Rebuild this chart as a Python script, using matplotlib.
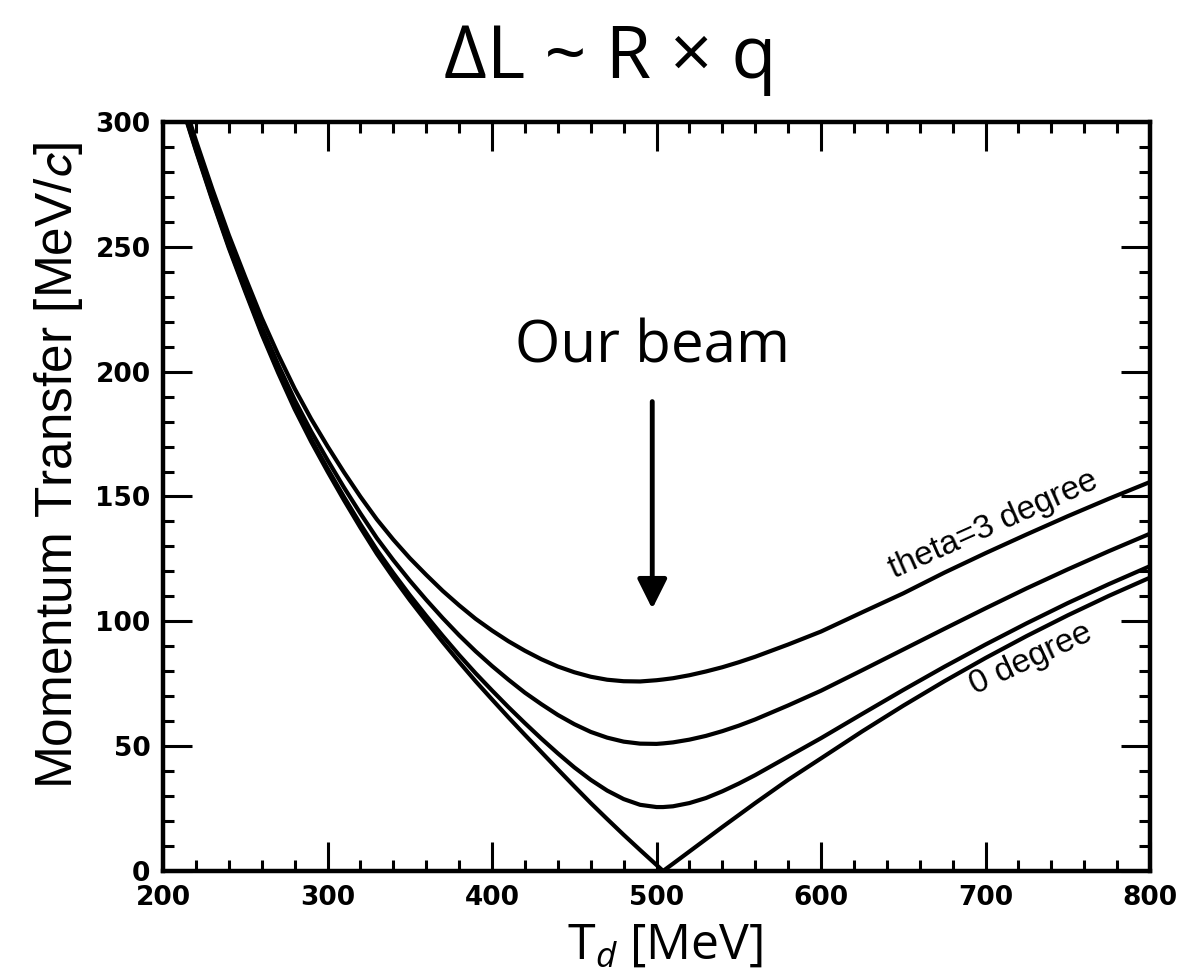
import matplotlib
matplotlib.use("Agg")
import matplotlib.pyplot as plt
from matplotlib.ticker import MultipleLocator

# -------------------------------------------------------
# 1. Data (T_d in MeV, q in MeV/c)
# -------------------------------------------------------

t_d = [210, 215, 220, 230, 240, 250, 260, 270, 280, 290,
       300, 310, 320, 330, 340, 350, 360, 370, 380, 390,
       400, 410, 420, 430, 440, 450, 460, 470, 480, 490,
       500, 504, 510, 520, 530, 540, 550, 560, 580, 600,
       625, 650, 675, 700, 725, 750, 775, 800]

q_0deg = [309, 299, 288.5, 268.5, 249.5, 232, 215, 199.5, 185, 172,
          160, 148.5, 137.5, 127, 117.5, 108.5, 100, 91.7, 83.7, 76,
          68.7, 61.5, 54.5, 47.6, 40.7, 33.9, 27.2, 20.8, 14.5, 8.4,
          2.4, 0, 2.9, 7.8, 12.7, 17.6, 22.4, 27.2, 36.5, 45.1,
          55.9, 66.2, 76.0, 85.3, 94.1, 102.4, 110.2, 117.5]

q_1deg = [309.4, 299.4, 289.0, 269.0, 250.1, 232.7, 215.7, 200.3, 185.9, 173.0,
          161.2, 149.8, 138.9, 128.6, 119.3, 110.5, 102.2, 94.2, 86.5, 79.2,
          72.3, 65.6, 59.2, 53.0, 47.1, 41.5, 36.5, 32.2, 28.8, 26.5,
          25.6, 25.6, 25.9, 27.2, 29.2, 31.9, 35.0, 38.4, 45.8, 53.2,
          62.9, 72.5, 81.8, 90.7, 99.2, 107.3, 114.9, 122.1]

q_2deg = [310.6, 300.7, 290.3, 270.6, 251.8, 234.6, 217.9, 202.8, 188.7, 176.1,
          164.6, 153.6, 143.2, 133.3, 124.5, 116.3, 108.6, 101.3, 94.4, 88.0,
          82.1, 76.6, 71.4, 66.8, 62.5, 58.8, 55.7, 53.4, 51.8, 51.0,
          50.9, 51.1, 51.5, 52.6, 54.1, 56.0, 58.2, 60.7, 66.3, 72.2,
          80.4, 88.7, 97.0, 105.2, 113.2, 120.8, 128.1, 135.1]

q_3deg = [312.7, 302.9, 292.6, 273.1, 254.7, 237.8, 221.5, 206.8, 193.2, 181.1,
          170.1, 159.7, 149.9, 140.8, 132.7, 125.3, 118.6, 112.2, 106.4, 101.0,
          96.3, 92.0, 88.2, 84.8, 81.9, 79.6, 77.8, 76.6, 76.0, 75.9,
          76.4, 76.7, 77.2, 78.4, 79.9, 81.6, 83.6, 85.8, 90.7, 95.9,
          103.6, 111.2, 119.5, 127.3, 134.8, 142.1, 149.1, 155.8]

curves = [q_0deg, q_1deg, q_2deg, q_3deg]

beam_energy = 497.4
beam_arrow_top = 188
beam_arrow_tip = 105

# -------------------------------------------------------
# 2. Figure
# -------------------------------------------------------

plt.rcParams["mathtext.fontset"] = "custom"
plt.rcParams["mathtext.rm"] = "Open Sans"
plt.rcParams["mathtext.it"] = "Open Sans:italic"

fig = plt.figure(figsize=(11.84, 9.75), dpi=100)
ax = fig.add_axes([0.1377, 0.1067, 0.8336, 0.7682])

for q in curves:
    ax.plot(t_d, q, color="black", lw=3, solid_joinstyle="round",
            solid_capstyle="butt")

ax.set_xlim(200, 800)
ax.set_ylim(0, 300)

ax.xaxis.set_major_locator(MultipleLocator(100))
ax.xaxis.set_minor_locator(MultipleLocator(20))
ax.yaxis.set_major_locator(MultipleLocator(50))
ax.yaxis.set_minor_locator(MultipleLocator(10))

ax.tick_params(which="both", direction="in", top=True, right=True,
               width=2.2, color="black")
ax.tick_params(which="major", length=21)
ax.tick_params(which="minor", length=8)
ax.tick_params(axis="y", pad=9, labelsize=19)
ax.tick_params(axis="x", pad=10, labelsize=19)
for lab in ax.get_xticklabels() + ax.get_yticklabels():
    lab.set_family("DejaVu Sans")
    lab.set_fontweight("bold")

for sp in ax.spines.values():
    sp.set_linewidth(3.2)

# axis labels
ax.set_ylabel("Momentum Transfer [MeV/$c$]", fontsize=37,
              family="Liberation Sans", math_fontfamily="stixsans")
ax.yaxis.set_label_coords(-0.079, 0.542)

ax.set_xlabel(r"$\mathrm{T}_d$ [MeV]", fontsize=36, family="Open Sans")
ax.xaxis.set_label_coords(0.509, -0.067)

# curve labels
ax.text(704.6, 138.5, "theta=3 degree", rotation=24, fontsize=24,
        family="Liberation Sans", ha="center", va="center",
        rotation_mode="anchor")
ax.text(727.4, 85.0, "0 degree", rotation=25, fontsize=24,
        family="Liberation Sans", ha="center", va="center",
        rotation_mode="anchor")

# beam marker
ax.annotate("", xy=(beam_energy, beam_arrow_tip),
            xytext=(beam_energy, beam_arrow_top),
            arrowprops=dict(arrowstyle="-|>,head_length=0.4,head_width=0.2",
                            lw=3.5, color="black", mutation_scale=45,
                            shrinkA=0, shrinkB=0))
ax.text(beam_energy, 203.5, "Our beam", ha="center", va="baseline",
        fontsize=42, family="Open Sans")

fig.suptitle("ΔL ~ R × q", x=0.515, y=0.92, va="baseline",
             fontsize=53, family="Open Sans")

fig.savefig("out.png", dpi=100)
plt.close(fig)
